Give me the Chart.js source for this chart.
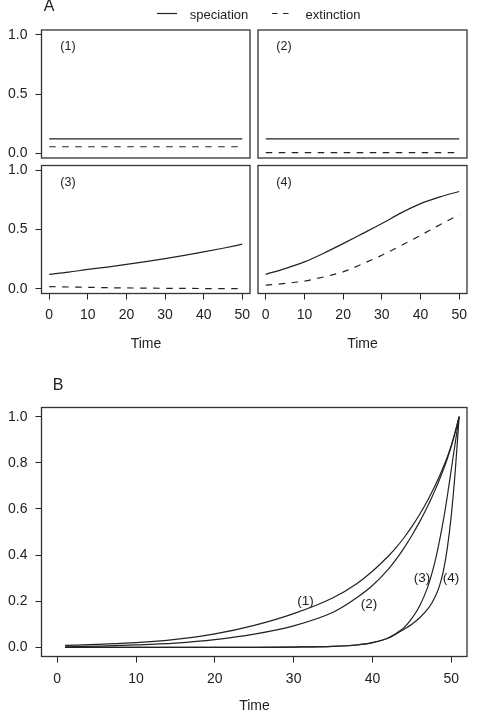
<!DOCTYPE html>
<html>
<head>
<meta charset="utf-8">
<script src="https://cdn.jsdelivr.net/npm/chart.js@4"></script>
<style>
  body { margin: 0; background: #fff; }
  #page { position: relative; width: 477px; height: 712px; overflow: hidden; font-family: "Liberation Sans", Arial, sans-serif; color: #222; }
  canvas { position: absolute; left: 0; top: 0; }
  .lab { position: absolute; transform: translate(-50%, -50%); line-height: 1; white-space: nowrap; }
</style>
</head>
<body>
<div id="page">
  <canvas id="p1" width="477" height="712"></canvas>
  <canvas id="p2" width="477" height="712"></canvas>
  <canvas id="p3" width="477" height="712"></canvas>
  <canvas id="p4" width="477" height="712"></canvas>
  <canvas id="pB" width="477" height="712"></canvas>

  <div class="lab" style="left:49px;top:6px;font-size:16px">A</div>
  <svg style="position:absolute;left:0;top:0" width="477" height="28">
    <line x1="157" y1="13.5" x2="177" y2="13.5" stroke="#222" stroke-width="1.2"/>
    <line x1="272" y1="13.5" x2="289" y2="13.5" stroke="#222" stroke-width="1.2" stroke-dasharray="5.5 5.5"/>
  </svg>
  <div class="lab" style="left:219px;top:13.5px;font-size:13px">speciation</div>
  <div class="lab" style="left:333px;top:13.5px;font-size:13px">extinction</div>

  <div class="lab" style="left:68px;top:46px;font-size:12.5px">(1)</div>
  <div class="lab" style="left:284px;top:46px;font-size:12.5px">(2)</div>
  <div class="lab" style="left:68px;top:182px;font-size:12.5px">(3)</div>
  <div class="lab" style="left:284px;top:182px;font-size:12.5px">(4)</div>
  <div class="lab" style="left:146px;top:343px;font-size:14px">Time</div>
  <div class="lab" style="left:362.5px;top:343px;font-size:14px">Time</div>

  <div class="lab" style="left:58px;top:385px;font-size:16px">B</div>
  <div class="lab" style="left:305.5px;top:600.5px;font-size:13.5px">(1)</div>
  <div class="lab" style="left:369px;top:604px;font-size:13.5px">(2)</div>
  <div class="lab" style="left:422px;top:577.5px;font-size:13.5px">(3)</div>
  <div class="lab" style="left:451px;top:577.5px;font-size:13.5px">(4)</div>
  <div class="lab" style="left:254.5px;top:705px;font-size:14px">Time</div>
</div>
<script>
// --- panel A: rates through time ---
const timeA = [0, 5, 10, 15, 20, 25, 30, 35, 40, 45, 50];
const spec1 = [0.122, 0.122, 0.122, 0.122, 0.122, 0.122, 0.122, 0.122, 0.122, 0.122, 0.122];
const ext1  = [0.055, 0.055, 0.055, 0.055, 0.055, 0.055, 0.055, 0.055, 0.055, 0.055, 0.055];
const spec2 = [0.122, 0.122, 0.122, 0.122, 0.122, 0.122, 0.122, 0.122, 0.122, 0.122, 0.122];
const ext2  = [0.005, 0.005, 0.005, 0.005, 0.005, 0.005, 0.005, 0.005, 0.005, 0.005, 0.005];
const spec3 = [0.121, 0.14, 0.163, 0.183, 0.205, 0.229, 0.255, 0.282, 0.311, 0.342, 0.376];
const ext3  = [0.018, 0.015, 0.012, 0.009, 0.007, 0.005, 0.004, 0.003, 0.002, 0.0015, 0.001];
const spec4 = [0.122, 0.17, 0.227, 0.30, 0.381, 0.465, 0.55, 0.64, 0.718, 0.775, 0.821];
const ext4  = [0.03, 0.045, 0.065, 0.1, 0.143, 0.21, 0.283, 0.365, 0.451, 0.54, 0.625];
const yTicksA = [0, 0.5, 1];

// --- panel B: curves (1)-(4) ---
const timeB  = [1, 5, 10, 15, 20, 25, 30, 35, 38, 40, 42, 43, 44, 45, 46, 47, 47.5, 48, 48.5, 49, 49.5, 50, 50.5, 51];
const curve1 = [0.008, 0.013, 0.02, 0.034, 0.058, 0.095, 0.146, 0.215, 0.276, 0.33, 0.395, 0.432, 0.475, 0.523, 0.577, 0.637, 0.67, 0.705, 0.742, 0.782, 0.826, 0.876, 0.934, 1.0];
const curve2 = [0.002, 0.005, 0.01, 0.018, 0.033, 0.057, 0.093, 0.152, 0.215, 0.268, 0.338, 0.381, 0.43, 0.485, 0.545, 0.612, 0.648, 0.686, 0.727, 0.771, 0.818, 0.87, 0.932, 1.0];
const curve3 = [0, 0, 0, 0, 0, 0, 0.001, 0.004, 0.01, 0.02, 0.04, 0.06, 0.085, 0.125, 0.18, 0.26, 0.315, 0.38, 0.46, 0.55, 0.655, 0.77, 0.885, 1.0];
const curve4 = [0, 0, 0, 0, 0, 0, 0.001, 0.004, 0.01, 0.02, 0.04, 0.058, 0.078, 0.10, 0.128, 0.165, 0.19, 0.222, 0.265, 0.33, 0.43, 0.57, 0.76, 1.0];
const yTicksB = [0, 0.2, 0.4, 0.6, 0.8, 1];
const xTicks = [0, 10, 20, 30, 40, 50];

const W = 477, H = 712;
const INK = '#222';
const FONT = { family: '"Liberation Sans", Arial, sans-serif', size: 14 };

// box round the plot region, like R's bty="o"
const frame = {
    id: 'frame',
    afterDraw(chart) {
        const { ctx, chartArea: a } = chart;
        ctx.save();
        ctx.strokeStyle = '#333';
        ctx.lineWidth = 1.3;
        ctx.strokeRect(a.left, a.top, a.right - a.left, a.bottom - a.top);
        ctx.restore();
    }
};

function serie(xs, ys, dashed) {
    return {
        data: xs.map((x, i) => ({ x: x, y: ys[i] })),
        borderColor: INK,
        borderWidth: 1.2,
        borderDash: dashed ? [6.5, 6.5] : [],
        pointRadius: 0,
        fill: false,
        cubicInterpolationMode: 'monotone'
    };
}

function painel(id, r, datasets, showX, showY, yTicks, xPad) {
    const yW = showY ? r.l : 0;
    const xH = showX ? 30 : 0;
    new Chart(document.getElementById(id), {
        type: 'line',
        data: { datasets: datasets },
        options: {
            responsive: false,
            animation: false,
            layout: { padding: { left: r.l - yW, top: r.t, right: W - r.r, bottom: H - r.b - xH } },
            plugins: { legend: { display: false }, tooltip: { enabled: false } },
            scales: {
                x: {
                    type: 'linear', min: -2, max: 52, display: showX,
                    afterBuildTicks: s => { s.ticks = xTicks.map(v => ({ value: v })); },
                    afterFit: s => { s.height = xH; },
                    grid: { drawOnChartArea: false, drawTicks: true, tickLength: 6, color: INK },
                    border: { display: false },
                    ticks: { color: INK, font: FONT, padding: xPad, maxRotation: 0, autoSkip: false }
                },
                y: {
                    type: 'linear', min: -0.04, max: 1.04, display: showY,
                    afterBuildTicks: s => { s.ticks = yTicks.map(v => ({ value: v })); },
                    afterFit: s => { s.width = yW; },
                    grid: { drawOnChartArea: false, drawTicks: true, tickLength: 6, color: INK },
                    border: { display: false },
                    ticks: { color: INK, font: FONT, padding: 8, callback: v => v.toFixed(1) }
                }
            }
        },
        plugins: [frame]
    });
}

painel('p1', { l: 41.5, t: 30, r: 250, b: 158 }, [serie(timeA, spec1), serie(timeA, ext1, true)], false, true, yTicksA, 7);
painel('p2', { l: 258, t: 30, r: 467, b: 158 }, [serie(timeA, spec2), serie(timeA, ext2, true)], false, false, yTicksA, 7);
painel('p3', { l: 41.5, t: 165.5, r: 250, b: 293.5 }, [serie(timeA, spec3), serie(timeA, ext3, true)], true, true, yTicksA, 7);
painel('p4', { l: 258, t: 165.5, r: 467, b: 293.5 }, [serie(timeA, spec4), serie(timeA, ext4, true)], true, false, yTicksA, 7);
painel('pB', { l: 41.5, t: 407.5, r: 467, b: 656.5 },
    [serie(timeB, curve1), serie(timeB, curve2), serie(timeB, curve3), serie(timeB, curve4)],
    true, true, yTicksB, 8);
</script>
</body>
</html>
